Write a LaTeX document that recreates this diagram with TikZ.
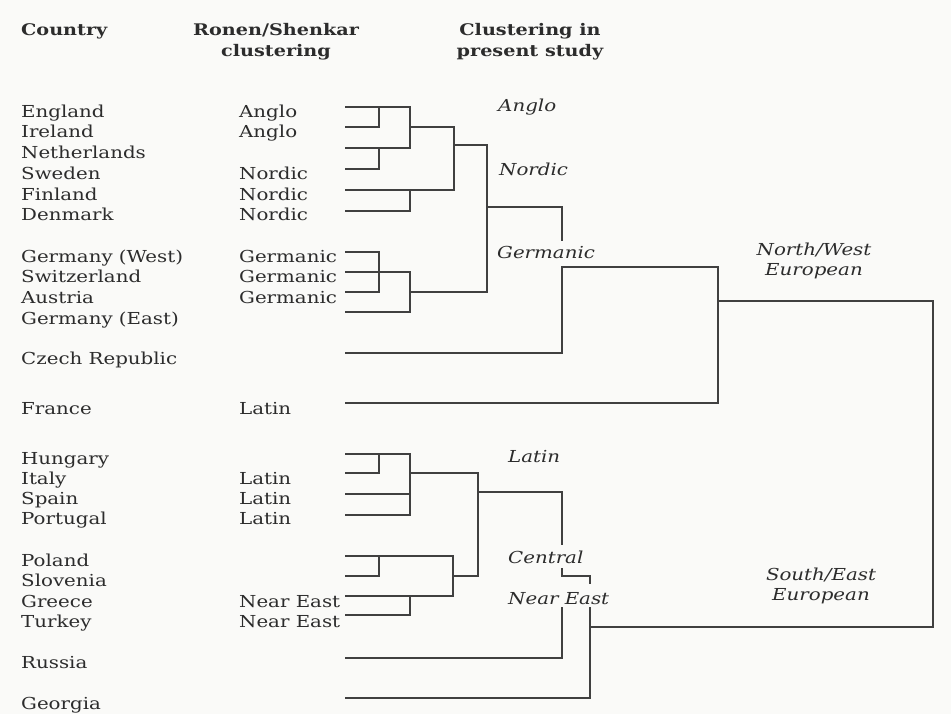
\documentclass[tikz,border=0pt]{standalone}
\usepackage{fontspec}
\setmainfont{DejaVu Serif}[FakeStretch=1.2]
\usetikzlibrary{positioning}
\definecolor{InkGray}{HTML}{2C2C2C}
\definecolor{LineGray}{HTML}{404040}
\definecolor{PaperGray}{HTML}{FAFAF8}

\begin{document}
\begin{tikzpicture}[
    x=1pt, y=-1pt,
    font=\fontsize{16.5}{20}\selectfont,
    country/.style={anchor=base west, inner sep=0pt, text=InkGray},
    ronen/.style={anchor=base west, inner sep=0pt, text=InkGray},
    header/.style={align=center, inner sep=0pt, text=InkGray,
        font=\fontsize{16}{21}\selectfont\bfseries},
    cluster/.style={anchor=base west, inner sep=0pt, text=InkGray,
        font=\fontsize{16.5}{20}\selectfont\itshape},
    region/.style={align=center, inner sep=0pt, text=InkGray,
        font=\fontsize{16.5}{20}\selectfont\itshape},
    link/.style={draw=LineGray, line width=1.3pt},
]

% hoja
\fill[PaperGray] (0,0) rectangle (951,714);
\useasboundingbox (0,0) rectangle (951,714);

% cabeceras
\node[header, anchor=north west] (hcountry) at (21,23) {Country};
\node[header, anchor=north] (hronen) at (276,23) {Ronen/Shenkar\\clustering};
\node[header, anchor=north] (hstudy) at (530,23) {Clustering in\\present study};

% paises
\node[country] (England) at (21,118) {England};
\node[country] (Ireland) at (21,138) {Ireland};
\node[country] (Netherlands) at (21,159) {Netherlands};
\node[country] (Sweden) at (21,180) {Sweden};
\node[country] (Finland) at (21,201) {Finland};
\node[country] (Denmark) at (21,221) {Denmark};
\node[country] (GermanyW) at (21,263) {Germany (West)};
\node[country] (Switzerland) at (21,283) {Switzerland};
\node[country] (Austria) at (21,303) {Austria};
\node[country] (GermanyE) at (21,324) {Germany (East)};
\node[country] (Czech) at (21,364) {Czech Republic};
\node[country] (France) at (21,414) {France};
\node[country] (Hungary) at (21,464) {Hungary};
\node[country] (Italy) at (21,484) {Italy};
\node[country] (Spain) at (21,504) {Spain};
\node[country] (Portugal) at (21,524) {Portugal};
\node[country] (Poland) at (21,566) {Poland};
\node[country] (Slovenia) at (21,586) {Slovenia};
\node[country] (Greece) at (21,607) {Greece};
\node[country] (Turkey) at (21,627) {Turkey};
\node[country] (Russia) at (21,668) {Russia};
\node[country] (Georgia) at (21,709) {Georgia};

% ronen/shenkar
\node[ronen] (EnglandR) at (239,118) {Anglo};
\node[ronen] (IrelandR) at (239,138) {Anglo};
\node[ronen] (SwedenR) at (239,180) {Nordic};
\node[ronen] (FinlandR) at (239,201) {Nordic};
\node[ronen] (DenmarkR) at (239,221) {Nordic};
\node[ronen] (GermanyWR) at (239,263) {Germanic};
\node[ronen] (SwitzerlandR) at (239,283) {Germanic};
\node[ronen] (AustriaR) at (239,303) {Germanic};
\node[ronen] (FranceR) at (239,414) {Latin};
\node[ronen] (ItalyR) at (239,484) {Latin};
\node[ronen] (SpainR) at (239,504) {Latin};
\node[ronen] (PortugalR) at (239,524) {Latin};
\node[ronen] (GreeceR) at (239,607) {Near East};
\node[ronen] (TurkeyR) at (239,627) {Near East};

% clusters del estudio
\node[cluster] (anglo) at (498,112) {Anglo};
\node[cluster] (nordic) at (499,176) {Nordic};
\node[cluster] (germanic) at (497,259) {Germanic};
\node[cluster] (latin) at (508,462) {Latin};
\node[cluster] (central) at (508,563) {Central};
\node[cluster] (neareast) at (508,604) {Near East};
\node[region] (nwest) at (814,261) {North/West\\European};
\node[region] (seast) at (821,586) {South/East\\European};

% hojas del dendrograma
\coordinate (eng) at (345,107);
\coordinate (ire) at (345,127);
\coordinate (ned) at (345,148);
\coordinate (swe) at (345,169);
\coordinate (fin) at (345,190);
\coordinate (den) at (345,211);
\coordinate (gew) at (345,252);
\coordinate (swi) at (345,272);
\coordinate (aut) at (345,292);
\coordinate (gee) at (345,312);
\coordinate (cze) at (345,353);
\coordinate (fra) at (345,403);
\coordinate (hun) at (345,454);
\coordinate (ita) at (345,473);
\coordinate (spa) at (345,494);
\coordinate (por) at (345,515);
\coordinate (pol) at (345,556);
\coordinate (slo) at (345,576);
\coordinate (gre) at (345,596);
\coordinate (tur) at (345,615);
\coordinate (rus) at (345,658);
\coordinate (geo) at (345,698);

% niveles de union
\coordinate (k1) at (379,0);
\coordinate (k2) at (410,0);
\coordinate (k3) at (454,0);
\coordinate (k4) at (487,0);
\coordinate (k5) at (562,0);
\coordinate (k6) at (718,0);
\coordinate (k7) at (933,0);
\coordinate (k8) at (478,0);
\coordinate (k9) at (453,0);
\coordinate (k10) at (590,0);
\coordinate (ya) at (0,145);
\coordinate (yb) at (0,207);
\coordinate (yc) at (0,241);
\coordinate (yd) at (0,267);
\coordinate (ye) at (0,301);
\coordinate (yf) at (0,627);
\coordinate (yg) at (0,492);
\coordinate (yh) at (0,545);
\coordinate (yi) at (0,568);
\coordinate (yj) at (0,584);
\coordinate (yk) at (0,607);

% anglo / nordic
\draw[link] (ire) -| (k1 |- eng);
\draw[link] (eng) -| (k2 |- ned) -- (ned);
\draw[link] (swe) -| (k1 |- ned);
\draw[link] (k2 |- ire) -| (k3 |- fin) -- (fin);
\draw[link] (den) -| (k2 |- fin);
\draw[link] (k3 |- ya) -| (k4 |- aut) -- (k2 |- aut);

% germanic
\draw[link] (gew) -| (k1 |- aut) -- (aut);
\draw[link] (swi) -| (k2 |- gee) -- (gee);

% north/west
\draw[link] (k4 |- yb) -| (k5 |- yc);
\draw[link] (cze) -| (k5 |- yd) -| (k6 |- fra) -- (fra);
\draw[link] (k6 |- ye) -| (k7 |- yf) -- (k10 |- yf);

% latin
\draw[link] (ita) -| (k1 |- hun);
\draw[link] (hun) -| (k2 |- por) -- (por);
\draw[link] (spa) -- (k2 |- spa);
\draw[link] (k2 |- ita) -| (k8 |- slo) -- (k9 |- slo);
\draw[link] (k8 |- yg) -| (k5 |- yh);

% central / near east
\draw[link] (pol) -| (k9 |- gre) -- (gre);
\draw[link] (slo) -| (k1 |- pol);
\draw[link] (tur) -| (k2 |- gre);
\draw[link] (k5 |- yi) |- (k10 |- slo) -- (k10 |- yj);
\draw[link] (k5 |- yk) |- (rus);
\draw[link] (k10 |- yk) |- (geo);

\end{tikzpicture}
\end{document}
